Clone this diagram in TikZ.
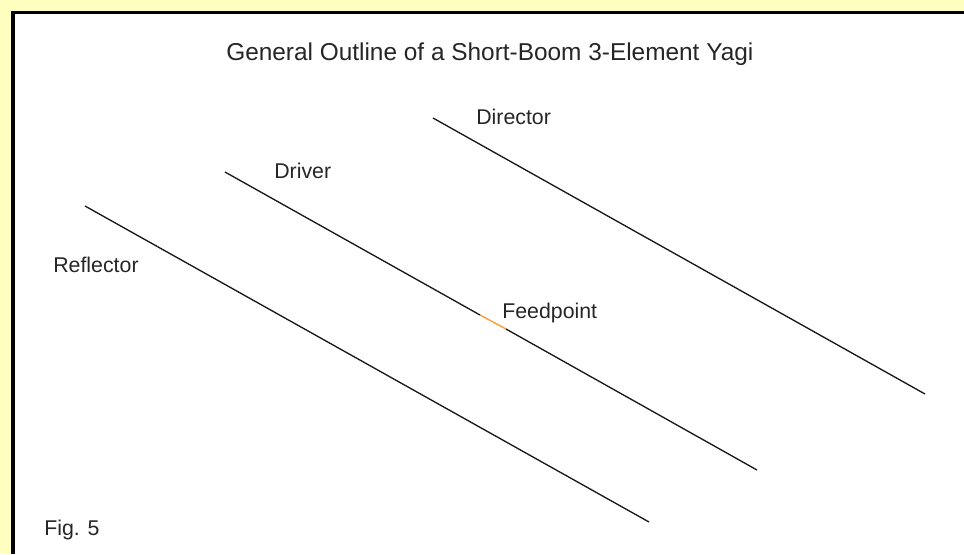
\documentclass[tikz,border=0pt]{standalone}
\usepackage{fontspec}
\setmainfont{Liberation Sans}
\usepackage{xcolor}
\definecolor{PageYellow}{RGB}{255,255,192}
\definecolor{FeedOrange}{RGB}{255,153,51}
\usetikzlibrary{positioning}

\begin{document}
\begin{tikzpicture}[x=0.75pt, y=-0.75pt, font=\fontsize{16}{18}\selectfont]
    \tikzset{
        element/.style={draw=black!90, line width=1pt},
        feedgap/.style={draw=FeedOrange, line width=1pt},
        label/.style={inner sep=0pt, anchor=base west, text=black!85}
    }
    \useasboundingbox (0,0) rectangle (964,554);
    \fill[PageYellow] (0,0) rectangle (964,554);
    \fill[black] (11,11) rectangle (964,554);
    \fill[white] (15,14) rectangle (964,554);
    \node[label, font=\fontsize{18.3}{20}\selectfont] (title) at (226,60) {General Outline of a Short-Boom 3-Element Yagi};
    \node[label] (director) at (476,124) {Director};
    \node[label] (driver) at (274,178) {Driver};
    \node[label] (reflector) at (53,272) {Reflector};
    \node[label] (feedpoint) at (502,318) {Feedpoint};
    \node[label] (figno) at (44,535) {Fig. 5};
    \coordinate (dirA) at (433,118);
    \coordinate (dirB) at (925,394);
    \coordinate (drvA) at (225,172);
    \coordinate (feedA) at (480,315);
    \coordinate (feedB) at (506,329);
    \coordinate (drvB) at (757,470);
    \coordinate (refA) at (85,206);
    \coordinate (refB) at (649,522);
    \draw[element] (dirA) -- (dirB);
    \draw[element] (drvA) -- (feedA);
    \draw[feedgap] (feedA) -- (feedB);
    \draw[element] (feedB) -- (drvB);
    \draw[element] (refA) -- (refB);
\end{tikzpicture}
\end{document}
